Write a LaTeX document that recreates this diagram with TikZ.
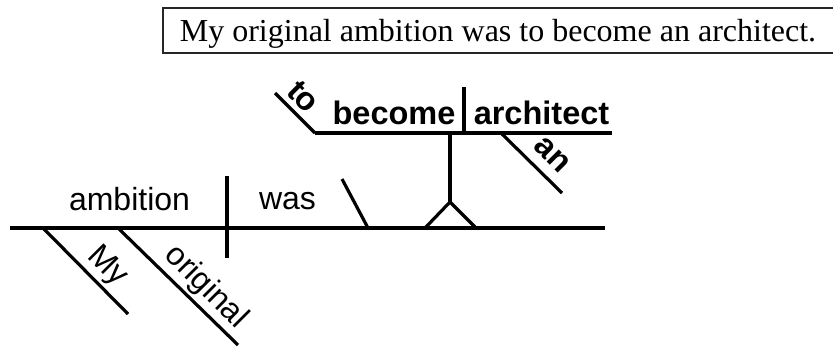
\documentclass[tikz,border=0pt]{standalone}
\usepackage{fontspec}
\setmainfont{Liberation Serif}
\newfontfamily\diagfont{Liberation Sans}
\usetikzlibrary{calc}
\begin{document}
\begin{tikzpicture}[x=1pt,y=-1pt,
  rule/.style={line width=3.2pt,black},
  word/.style={font=\diagfont\fontsize{32}{36}\selectfont,inner sep=0pt,anchor=base},
  boldword/.style={font=\diagfont\bfseries\fontsize{32.5}{36}\selectfont,inner sep=0pt,anchor=base},
  modword/.style={font=\diagfont\fontsize{32}{36}\selectfont,rotate=-45,anchor=base,inner sep=0pt},
  boldmod/.style={font=\diagfont\bfseries\fontsize{32.5}{36}\selectfont,rotate=-45,anchor=base,inner sep=0pt},
  titlebox/.style={draw=black!85,line width=1.3pt}]
\useasboundingbox (0,0) rectangle (833,349);

% sentence in its frame
\draw[titlebox] (840,8) -- (163,8) -- (163,53) -- (840,53);
\node[font=\fontsize{32}{36}\selectfont,anchor=base,inner sep=0pt] (sentence) at (498,41)
  {My original ambition was to become an architect.};

% main line: subject | verb \ complement
\coordinate (baseL) at (10,228);
\coordinate (baseR) at (605,228);
\draw[rule] (baseL) -- (baseR);
\coordinate (divT) at (227,176);
\coordinate (divB) at (227,258);
\draw[rule] (divT) -- (divB);
\coordinate (slT) at (342,179);
\coordinate (slB) at (368,228);
\draw[rule] (slT) -- (slB);

\node[word] (ambition) at (129.5,210) {ambition};
\node[word] (was) at (287.5,209) {was};

% modifiers of the subject (text baseline offset up-right of each slant)
\coordinate (myS) at (43,228);
\coordinate (myE) at (128,314);
\draw[rule] (myS) -- (myE);
\node[modword] (my) at ($(myS)!0.60!(myE)+(7.5,-7.5)$) {My};
\coordinate (orS) at (118,228);
\coordinate (orE) at (238,345);
\draw[rule] (orS) -- (orE);
\node[modword] (original) at ($(orS)!0.62!(orE)+(7.5,-7.5)$) {original};

% pedestal carrying the infinitive phrase
\coordinate (pedTop) at (450,133);
\coordinate (pedApex) at (450,202);
\coordinate (pedL) at (425,228);
\coordinate (pedR) at (476,228);
\draw[rule] (pedTop) -- (pedApex);
\draw[rule,line join=miter] (pedL) -- (pedApex) -- (pedR);

% infinitive phrase: to become | architect
\coordinate (upL) at (315,133);
\coordinate (upR) at (612,133);
\draw[rule] (upL) -- (upR);
\coordinate (toS) at (275,93);
\draw[rule] (toS) -- (upL);
\node[boldmod] (to) at ($(toS)!0.40!(upL)+(5,-5)$) {to};
\coordinate (div2T) at (464,87);
\coordinate (div2B) at (464,133);
\draw[rule] (div2T) -- (div2B);
\node[boldword] (become) at (394,124) {become};
\node[boldword] (architect) at (541.5,124) {architect};

\coordinate (anS) at (502,134);
\coordinate (anE) at (562,193);
\draw[rule] (anS) -- (anE);
\node[boldmod] (an) at ($(anS)!0.60!(anE)+(8,-8)$) {an};
\end{tikzpicture}
\end{document}
